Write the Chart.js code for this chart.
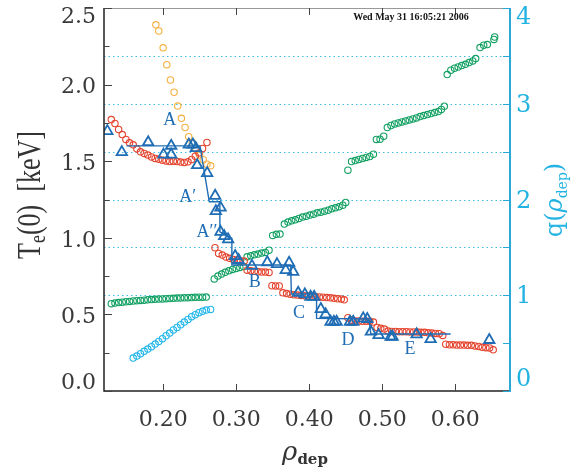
<!DOCTYPE html>
<html>
<head>
<meta charset="utf-8">
<script src="https://cdn.jsdelivr.net/npm/chart.js@4.4.0/dist/chart.umd.min.js"></script>
<style>
  html, body { margin: 0; padding: 0; background: #fff; }
  canvas { display: block; }
</style>
</head>
<body>
<canvas id="grafica" width="571" height="472"></canvas>
<script>
// ejes
const xTickValues = [0.2, 0.3, 0.4, 0.5, 0.6];
const xTickLabels = ['0.20', '0.30', '0.40', '0.50', '0.60'];
const teTickValues = [0, 0.5, 1.0, 1.5, 2.0, 2.5];
const teTickLabels = ['0.0', '0.5', '1.0', '1.5', '2.0', '2.5'];
const teMinorTicks = [0.25, 0.75, 1.25, 1.75, 2.25];
const qTickValues = [0, 1, 2, 3, 4];
const qTickLabels = ['0', '1', '2', '3', '4'];
const qMinorTicks = [0.5, 1.5, 2.5, 3.5];
const qDottedLines = [1, 1.5, 2, 2.5, 3, 3.5];

// Te(0) puntos rojos
const redRho = [0.129, 0.134, 0.139, 0.144, 0.149, 0.154, 0.159, 0.164, 0.169, 0.174, 0.179, 0.184, 0.189, 0.194, 0.199, 0.204, 0.209, 0.214, 0.219, 0.224, 0.229, 0.234, 0.239, 0.244, 0.249, 0.254, 0.260,
  0.271, 0.276, 0.281, 0.286, 0.291, 0.296, 0.301, 0.306, 0.311,
  0.315, 0.320, 0.325, 0.330, 0.335, 0.340, 0.345,
  0.349, 0.354, 0.359,
  0.364, 0.369, 0.374, 0.379, 0.384, 0.389, 0.394, 0.399, 0.404, 0.409, 0.414, 0.419, 0.424, 0.429, 0.434, 0.439, 0.444, 0.448,
  0.453, 0.458, 0.463, 0.468, 0.473, 0.478, 0.483, 0.488, 0.493, 0.498, 0.503, 0.508, 0.513, 0.518, 0.523, 0.528, 0.533, 0.538, 0.543, 0.548, 0.553, 0.558, 0.563, 0.568, 0.573, 0.578, 0.583,
  0.587, 0.592, 0.597, 0.602, 0.607, 0.612, 0.617, 0.622, 0.627, 0.632, 0.637, 0.642, 0.647, 0.652];
const redTe = [1.772, 1.746, 1.707, 1.674, 1.642, 1.620, 1.607, 1.581, 1.561, 1.551, 1.540, 1.528, 1.518, 1.513, 1.507, 1.502, 1.498, 1.500, 1.498, 1.494, 1.492, 1.496, 1.511, 1.533, 1.554, 1.583, 1.622,
  0.935, 0.898, 0.887, 0.874, 0.866, 0.859, 0.855, 0.848, 0.848,
  0.789, 0.785, 0.781, 0.778, 0.776, 0.776, 0.774,
  0.687, 0.686, 0.686,
  0.641, 0.636, 0.632, 0.628, 0.626, 0.624, 0.622, 0.620, 0.618, 0.616, 0.614, 0.612, 0.610, 0.608, 0.605, 0.602, 0.600, 0.595,
  0.478, 0.461, 0.457, 0.457, 0.455, 0.455, 0.455, 0.450, 0.415, 0.409, 0.404, 0.391, 0.389, 0.389, 0.387, 0.387, 0.387, 0.385, 0.385, 0.385, 0.383, 0.383, 0.380, 0.378, 0.376, 0.374, 0.363,
  0.305, 0.302, 0.302, 0.300, 0.300, 0.300, 0.298, 0.298, 0.294, 0.291, 0.285, 0.283, 0.281, 0.269];

// Te(0) puntos naranjas
const orangeRho = [0.190, 0.194, 0.200, 0.205, 0.210, 0.215, 0.220, 0.225, 0.230, 0.235, 0.240, 0.245, 0.250, 0.255, 0.260, 0.265];
const orangeTe = [2.39, 2.35, 2.24, 2.13, 2.03, 1.95, 1.86, 1.78, 1.72, 1.66, 1.62, 1.58, 1.54, 1.51, 1.48, 1.47];

// Te(0) triangulos azules
const triRho = [0.1236, 0.1434, 0.1795, 0.2005, 0.2110, 0.2110, 0.2352, 0.2407, 0.2448, 0.2466, 0.2603, 0.2712, 0.2722, 0.2786, 0.2786, 0.2836, 0.2890,
  0.2986, 0.3033, 0.3216, 0.3426, 0.3559, 0.3725, 0.3679, 0.3781, 0.3849, 0.3941, 0.4019, 0.4068, 0.4160, 0.4225, 0.4293, 0.4338, 0.4375,
  0.4558, 0.4603, 0.4740, 0.4795, 0.4845, 0.4951, 0.5115, 0.5142, 0.5471, 0.5663, 0.6466];
const triTe = [1.696, 1.559, 1.624, 1.543, 1.601, 1.543, 1.608, 1.609, 1.585, 1.474, 1.422, 1.274, 1.174, 1.197, 1.039, 1.011, 0.990,
  0.881, 0.855, 0.817, 0.840, 0.828, 0.837, 0.789, 0.778, 0.641, 0.631, 0.615, 0.615, 0.535, 0.500, 0.452, 0.452, 0.452,
  0.452, 0.452, 0.474, 0.470, 0.387, 0.365, 0.354, 0.354, 0.370, 0.339, 0.333];

// linea escalonada
const stepRho = [0.1499, 0.2504, 0.2632, 0.2777, 0.2777, 0.2941, 0.2941, 0.3746, 0.3756, 0.4101, 0.4101, 0.4818, 0.4845, 0.5937];
const stepTe = [1.600, 1.600, 1.235, 1.235, 1.039, 0.996, 0.822, 0.822, 0.633, 0.633, 0.474, 0.470, 0.372, 0.372];

// q(rho_dep) verde
const greenRho = [0.129, 0.134, 0.139, 0.144, 0.149, 0.154, 0.159, 0.164, 0.169, 0.174, 0.179, 0.184, 0.189, 0.194, 0.199, 0.204, 0.209, 0.214, 0.219, 0.224, 0.229, 0.234, 0.239, 0.244, 0.249, 0.254, 0.259,
  0.270, 0.275, 0.280, 0.285, 0.290, 0.295, 0.300, 0.305, 0.310,
  0.315, 0.320, 0.325, 0.330, 0.335, 0.340, 0.345,
  0.350, 0.355, 0.360,
  0.366, 0.371, 0.376, 0.381, 0.386, 0.391, 0.396, 0.401, 0.406, 0.411, 0.416, 0.421, 0.426, 0.431, 0.436, 0.441, 0.446, 0.450,
  0.453, 0.458, 0.463, 0.468, 0.473, 0.478, 0.483, 0.488,
  0.492, 0.497, 0.502,
  0.507, 0.512, 0.517, 0.522, 0.527, 0.532, 0.537, 0.542, 0.547, 0.552, 0.557, 0.562, 0.567, 0.572, 0.577, 0.581, 0.585,
  0.589, 0.594, 0.599, 0.604, 0.609, 0.614, 0.619, 0.624, 0.628,
  0.634, 0.639, 0.644, 0.653, 0.654];
const greenQ = [0.912, 0.918, 0.923, 0.928, 0.932, 0.936, 0.940, 0.943, 0.946, 0.949, 0.952, 0.955, 0.957, 0.960, 0.962, 0.964, 0.966, 0.968, 0.970, 0.972, 0.973, 0.975, 0.976, 0.978, 0.979, 0.980, 0.981,
  1.170, 1.200, 1.221, 1.239, 1.255, 1.270, 1.280, 1.291, 1.301,
  1.401, 1.412, 1.422, 1.430, 1.440, 1.447, 1.471,
  1.625, 1.636, 1.639,
  1.743, 1.764, 1.777, 1.788, 1.802, 1.816, 1.826, 1.837, 1.847, 1.861, 1.868, 1.878, 1.889, 1.903, 1.913, 1.924, 1.941, 1.969,
  2.306, 2.397, 2.407, 2.418, 2.428, 2.439, 2.449, 2.473,
  2.627, 2.630, 2.661,
  2.752, 2.773, 2.789, 2.800, 2.810, 2.821, 2.831, 2.842, 2.852, 2.866, 2.877, 2.887, 2.898, 2.908, 2.919, 2.940, 2.974,
  3.305, 3.350, 3.371, 3.384, 3.399, 3.412, 3.430, 3.447, 3.472,
  3.587, 3.611, 3.618, 3.672, 3.697];

// q(rho_dep) cian
const cyanRho = [0.159, 0.164, 0.169, 0.174, 0.179, 0.184, 0.189, 0.194, 0.199, 0.204, 0.209, 0.214, 0.219, 0.224, 0.229, 0.234, 0.239, 0.244, 0.249, 0.254, 0.259, 0.265];
const cyanQ = [0.344, 0.365, 0.390, 0.414, 0.438, 0.463, 0.490, 0.518, 0.546, 0.577, 0.605, 0.637, 0.664, 0.692, 0.720, 0.748, 0.776, 0.797, 0.818, 0.832, 0.845, 0.852];

// etiquetas
const annoText = ['A', 'A\u2032', 'A\u2032\u2032', 'B', 'C', 'D', 'E'];
const annoRho = [0.2092, 0.2338, 0.2599, 0.3256, 0.3859, 0.4530, 0.5379];
const annoTe = [1.768, 1.265, 1.037, 0.711, 0.509, 0.333, 0.274];
const stampText = 'Wed May 31 16:05:21 2006';

const BLUE = '#1f6db5';
const CYAN = '#23b3e3';
const AXIS_CYAN = '#2aa8d8';

function pts(xs, ys) {
  return xs.map((x, i) => ({ x: x, y: ys[i] }));
}

// dibuja trozos de texto centrados en (x, y)
function textRuns(ctx, runs, x, y) {
  let total = 0;
  runs.forEach(r => { ctx.font = r[1]; total += ctx.measureText(r[0]).width; });
  let cx = x - total / 2;
  runs.forEach(r => {
    ctx.font = r[1];
    ctx.fillText(r[0], cx, y + (r[2] || 0));
    cx += ctx.measureText(r[0]).width;
  });
}

const frame = {
  id: 'frame',
  beforeDatasetsDraw(chart) {
    const { ctx, chartArea: a } = chart;
    const y1 = chart.scales.y1;
    ctx.save();
    ctx.strokeStyle = '#3dbde3';
    ctx.lineWidth = 1;
    ctx.setLineDash([1.5, 3]);
    qDottedLines.forEach(v => {
      const py = Math.round(y1.getPixelForValue(v)) + 0.5;
      ctx.beginPath();
      ctx.moveTo(a.left, py);
      ctx.lineTo(a.right, py);
      ctx.stroke();
    });
    ctx.restore();
  },
  afterDatasetsDraw(chart) {
    const { ctx, chartArea: a } = chart;
    const x = chart.scales.x, y = chart.scales.y, y1 = chart.scales.y1;
    ctx.save();

    // marco
    ctx.lineWidth = 1;
    ctx.strokeStyle = '#999';
    ctx.beginPath(); ctx.moveTo(a.left, a.top + 0.5); ctx.lineTo(a.right, a.top + 0.5); ctx.stroke();
    ctx.lineWidth = 1.5;
    ctx.strokeStyle = '#222';
    ctx.beginPath();
    ctx.moveTo(a.left, a.top); ctx.lineTo(a.left, a.bottom); ctx.lineTo(a.right, a.bottom);
    ctx.stroke();
    ctx.lineWidth = 2;
    ctx.strokeStyle = AXIS_CYAN;
    ctx.beginPath(); ctx.moveTo(a.right, a.top); ctx.lineTo(a.right, a.bottom + 1); ctx.stroke();

    // marcas
    ctx.lineWidth = 1;
    ctx.strokeStyle = '#444';
    xTickValues.forEach(v => {
      const px = Math.round(x.getPixelForValue(v)) + 0.5;
      ctx.beginPath(); ctx.moveTo(px, a.bottom); ctx.lineTo(px, a.bottom - 7); ctx.stroke();
      ctx.beginPath(); ctx.moveTo(px, a.top); ctx.lineTo(px, a.top + 7); ctx.stroke();
    });
    teTickValues.forEach(v => {
      const py = Math.round(y.getPixelForValue(v)) + 0.5;
      ctx.beginPath(); ctx.moveTo(a.left, py); ctx.lineTo(a.left + 8, py); ctx.stroke();
    });
    teMinorTicks.forEach(v => {
      const py = Math.round(y.getPixelForValue(v)) + 0.5;
      ctx.beginPath(); ctx.moveTo(a.left, py); ctx.lineTo(a.left + 5.5, py); ctx.stroke();
    });
    ctx.strokeStyle = AXIS_CYAN;
    qTickValues.concat(qMinorTicks).forEach(v => {
      const py = Math.round(y1.getPixelForValue(v)) + 0.5;
      ctx.beginPath(); ctx.moveTo(a.right, py); ctx.lineTo(a.right - 7, py); ctx.stroke();
    });

    // numeros
    ctx.font = '22px "DejaVu Serif"';
    ctx.fillStyle = '#3a3a3a';
    ctx.textBaseline = 'middle';
    ctx.textAlign = 'center';
    xTickValues.forEach((v, i) => ctx.fillText(xTickLabels[i], x.getPixelForValue(v), 420));
    ctx.textAlign = 'right';
    teTickValues.forEach((v, i) => {
      const py = Math.min(Math.max(y.getPixelForValue(v) + 3, a.top + 9), a.bottom - 8);
      ctx.fillText(teTickLabels[i], 96, py);
    });
    ctx.fillStyle = CYAN;
    ctx.font = '24px "DejaVu Serif"';
    ctx.textAlign = 'left';
    qTickValues.forEach((v, i) => {
      const py = Math.min(Math.max(y1.getPixelForValue(v) + 2, a.top + 10), a.bottom - 11);
      ctx.fillText(qTickLabels[i], 516, py);
    });

    // titulos
    ctx.textAlign = 'left';
    ctx.textBaseline = 'alphabetic';
    ctx.fillStyle = '#333';
    ctx.save();
    ctx.translate(40, 195);
    ctx.rotate(-Math.PI / 2);
    ctx.scale(1, 1.3);
    textRuns(ctx, [
      ['T', '26px "Liberation Serif"'],
      ['e', '18px "Liberation Serif"', 4],
      ['(0)  [keV]', '26px "Liberation Serif"']
    ], 0, 0);
    ctx.restore();

    ctx.fillStyle = CYAN;
    ctx.save();
    ctx.translate(562, 200);
    ctx.rotate(-Math.PI / 2);
    textRuns(ctx, [
      ['q(', '24px "DejaVu Serif"'],
      ['\u03c1', 'italic 24px "DejaVu Serif"'],
      ['dep', '14px "DejaVu Serif"', 5],
      [')', '24px "DejaVu Serif"']
    ], 0, 0);
    ctx.restore();

    ctx.fillStyle = '#333';
    textRuns(ctx, [
      ['\u03c1', 'italic 26px "DejaVu Serif"'],
      ['dep', 'bold 15px "DejaVu Serif"', 4]
    ], 305, 460);

    // fecha
    ctx.fillStyle = '#111';
    ctx.font = 'bold 10px "Liberation Serif"';
    ctx.textAlign = 'center';
    ctx.textBaseline = 'middle';
    ctx.fillText(stampText, 411, 17);

    // letras A..E
    ctx.fillStyle = BLUE;
    ctx.font = '18px "Liberation Serif"';
    annoText.forEach((t, i) => {
      ctx.fillText(t, x.getPixelForValue(annoRho[i]), y.getPixelForValue(annoTe[i]));
    });
    ctx.restore();
  }
};

const circle = (color) => ({
  showLine: false,
  pointStyle: 'circle',
  pointRadius: 3.2,
  pointBorderWidth: 1.1,
  pointBorderColor: color,
  pointBackgroundColor: 'rgba(0,0,0,0)',
  borderColor: color
});

const ctx = document.getElementById('grafica').getContext('2d');
window.myChart = new Chart(ctx, {
  type: 'scatter',
  data: {
    datasets: [
      {
        label: 'triangulos',
        data: pts(triRho, triTe),
        showLine: false,
        pointStyle: 'triangle',
        pointRadius: 6,
        pointBorderWidth: 1.8,
        pointBorderColor: BLUE,
        pointBackgroundColor: 'rgba(0,0,0,0)',
        yAxisID: 'y'
      },
      {
        label: 'escalon',
        data: pts(stepRho, stepTe),
        showLine: true,
        borderColor: BLUE,
        borderWidth: 1.4,
        pointRadius: 0,
        tension: 0,
        yAxisID: 'y'
      },
      Object.assign({ label: 'Te rojo', data: pts(redRho, redTe), yAxisID: 'y' }, circle('#e5432d')),
      Object.assign({ label: 'Te naranja', data: pts(orangeRho, orangeTe), yAxisID: 'y' }, circle('#f5b142')),
      Object.assign({ label: 'q verde', data: pts(greenRho, greenQ), yAxisID: 'y1' }, circle('#12a062')),
      Object.assign({ label: 'q cian', data: pts(cyanRho, cyanQ), yAxisID: 'y1' }, circle('#22b6ea'))
    ]
  },
  options: {
    responsive: false,
    animation: false,
    devicePixelRatio: 1,
    layout: { padding: { top: 8, left: 0, right: 0, bottom: 0 } },
    plugins: { legend: { display: false }, tooltip: { enabled: false } },
    scales: {
      x: {
        type: 'linear', min: 0.119, max: 0.675,
        grid: { display: false }, border: { display: false }, ticks: { display: false },
        afterFit: s => { s.height = 81; }
      },
      y: {
        position: 'left', min: 0, max: 2.5,
        grid: { display: false }, border: { display: false }, ticks: { display: false },
        afterFit: s => { s.width = 104; }
      },
      y1: {
        position: 'right', min: 0, max: 4,
        grid: { display: false }, border: { display: false }, ticks: { display: false },
        afterFit: s => { s.width = 61; }
      }
    }
  },
  plugins: [frame]
});
</script>
</body>
</html>
